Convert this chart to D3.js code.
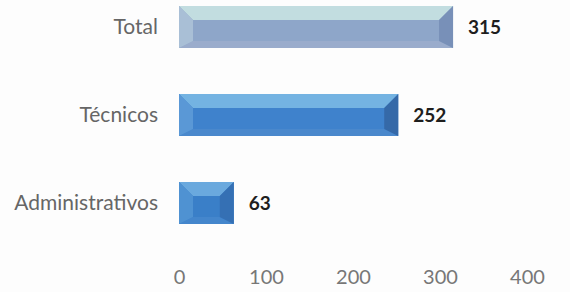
<!DOCTYPE html>
<html>
<head>
<meta charset="utf-8">
<script src="https://cdn.jsdelivr.net/npm/d3@7"></script>
<style>
  body { margin: 0; background: #fdfdfd; }
  svg { display: block; font-family: Lato, "Open Sans", sans-serif; }
</style>
</head>
<body>
<div id="chart"></div>
<script>
// Data
const categories = ["Total", "Técnicos", "Administrativos"];
const values = [315, 252, 63];
const xTicks = [0, 100, 200, 300, 400];

// Bevel colours per bar: [top, face, left, right, bottom]
const palettes = [
    ["#c2dde0", "#8ea6c9", "#a9bfd6", "#7890b8", "#9aaccc"],
    ["#74b3e2", "#3f82cc", "#5a98d6", "#3569a8", "#4a88cc"],
    ["#6aa9de", "#3a7fc8", "#4f92d2", "#3570b4", "#4486cc"]
];

const width = 570, height = 292;
const margin = { top: 6, right: 47, bottom: 40, left: 179 };
const innerHeight = height - margin.top - margin.bottom;

const svg = d3.select("#chart")
    .append("svg")
    .attr("width", width)
    .attr("height", height);

const innerChart = svg.append("g")
    .attr("transform", `translate(${margin.left},${margin.top})`);

// Scales
const xScale = d3.scaleLinear()
    .domain([0, 400])
    .range([0, 348]);

const yScale = d3.scaleBand()
    .domain(categories)
    .range([0, 218])
    .paddingInner(0.523)
    .paddingOuter(0);

// Bars with a bevel look
categories.forEach((cat, i) => {
    const x0 = xScale(0), x1 = xScale(values[i]);
    const y0 = yScale(cat), h = yScale.bandwidth(), y1 = y0 + h;
    const w = x1 - x0;
    const b = Math.min(14, w / 2, h / 2.6);
    const c = palettes[i];
    const g = innerChart.append("g");

    g.append("rect")
        .attr("x", x0).attr("y", y0)
        .attr("width", w).attr("height", h)
        .attr("fill", c[1]);
    // top bevel
    g.append("polygon")
        .attr("points", [[x0, y0], [x1, y0], [x1 - b, y0 + b], [x0 + b, y0 + b]].join(" "))
        .attr("fill", c[0]);
    // bottom bevel
    g.append("polygon")
        .attr("points", [[x0, y1], [x1, y1], [x1 - b, y1 - b * 0.5], [x0 + b, y1 - b * 0.5]].join(" "))
        .attr("fill", c[4]);
    // left bevel
    g.append("polygon")
        .attr("points", [[x0, y0], [x0 + b, y0 + b], [x0 + b, y1 - b * 0.5], [x0, y1]].join(" "))
        .attr("fill", c[2]);
    // right bevel
    g.append("polygon")
        .attr("points", [[x1, y0], [x1 - b, y0 + b], [x1 - b, y1 - b * 0.5], [x1, y1]].join(" "))
        .attr("fill", c[3]);

    // value label
    g.append("text")
        .attr("x", x1 + 15)
        .attr("y", y0 + h / 2 + 7)
        .attr("fill", "#1e1e1e")
        .style("font-size", "19px")
        .style("font-weight", "bold")
        .text(values[i]);

    // category label
    g.append("text")
        .attr("x", -21)
        .attr("y", y0 + h / 2 + 7)
        .attr("text-anchor", "end")
        .attr("fill", "#666")
        .style("font-size", "21px")
        .text(cat);
});

// X axis labels only
const xAxis = innerChart.append("g")
    .attr("transform", `translate(0,${innerHeight})`)
    .call(d3.axisBottom(xScale).tickValues(xTicks).tickSize(0).tickPadding(18));
xAxis.select(".domain").remove();
xAxis.selectAll("text")
    .attr("fill", "#777")
    .style("font-size", "20px")
    .style("font-family", "Lato, sans-serif");
</script>
</body>
</html>
